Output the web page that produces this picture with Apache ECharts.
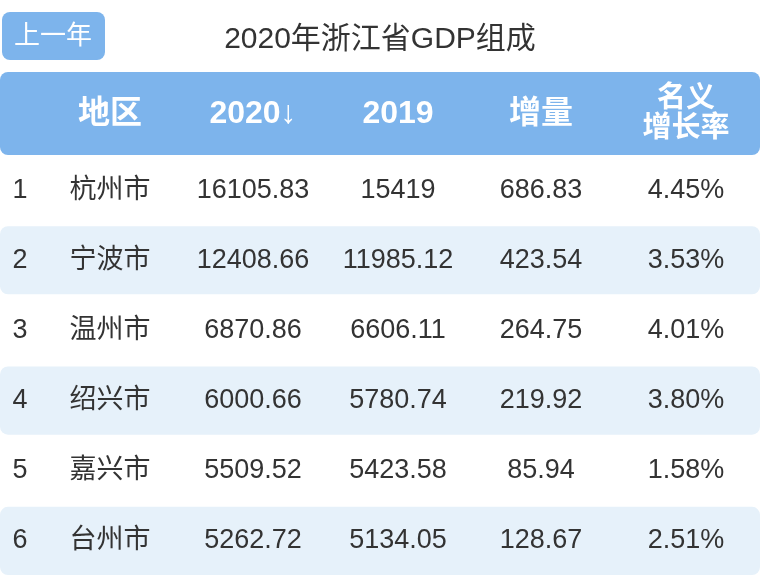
<!DOCTYPE html>
<html><head><meta charset="utf-8">
<script src="https://cdn.jsdelivr.net/npm/echarts@6/dist/echarts.min.js"></script>
<style>html,body{margin:0;padding:0;background:#fff}#c{width:767px;height:576px}</style>
</head><body><div id="c"></div>
<script>
const title = '2020年浙江省GDP组成';
const buttonLabel = '上一年';
const headers = ['', '地区', '2020↓', '2019', '增量', '名义\n增长率'];
const ranks = ['1', '2', '3', '4', '5', '6'];
const cities = ['杭州市', '宁波市', '温州市', '绍兴市', '嘉兴市', '台州市'];
const gdp2020 = ['16105.83', '12408.66', '6870.86', '6000.66', '5509.52', '5262.72'];
const gdp2019 = ['15419', '11985.12', '6606.11', '5780.74', '5423.58', '5134.05'];
const increase = ['686.83', '423.54', '264.75', '219.92', '85.94', '128.67'];
const growth = ['4.45%', '3.53%', '4.01%', '3.80%', '1.58%', '2.51%'];

const colX = [20, 110, 253, 398, 541, 686];
const FONT = '"Liberation Sans", "Noto Sans CJK SC", sans-serif';
const cols = [ranks, cities, gdp2020, gdp2019, increase, growth];
const cells = [];
cols.forEach((arr, c) => arr.forEach((v, r) => cells.push([c, r, v])));
const bgRows = ranks.map((_, r) => [r]).filter(d => d[0] % 2 === 1);

const chart = echarts.init(document.getElementById('c'));
chart.setOption({
  animation: false,
  grid: {left: 0, right: 7, top: 155, bottom: -73},
  xAxis: {type: 'value', min: 0, max: 760, show: false},
  yAxis: {type: 'category', data: ranks, inverse: true, show: false},
  graphic: [
    {type: 'rect', left: 2, top: 12, shape: {width: 103, height: 48, r: 8}, style: {fill: '#7db4ec'}},
    {type: 'text', x: 53, y: 37, style: {text: buttonLabel, fill: '#fff', font: '26px ' + FONT, align: 'center', verticalAlign: 'middle'}},
    {type: 'text', x: 380, y: 40, style: {text: title, fill: '#333', font: '30px ' + FONT, align: 'center', verticalAlign: 'middle'}},
    {type: 'rect', x: 0, y: 72, shape: {width: 760, height: 83, r: 8}, style: {fill: '#7db4ec'}},
    ...headers.map((h, i) => ({type: 'text', x: colX[i], y: 114, style: {
      text: h, fill: '#fff', align: 'center', verticalAlign: 'middle',
      font: (i === 5 ? 'bold 29px ' : 'bold 32px ') + FONT, lineHeight: 30}}))
  ],
  series: [
    {type: 'custom', data: bgRows, encode: {y: 0},
     renderItem: (p, api) => {
       const y = api.coord([0, api.value(0)])[1];
       const h = api.size([0, 1])[1];
       return {type: 'rect', shape: {x: 0, y: y - h / 2 + 1, width: 760, height: h - 2, r: 8}, style: {fill: '#e6f1fa'}};
     }},
    {type: 'custom', data: cells, encode: {y: 1},
     renderItem: (p, api) => {
       const c = api.value(0);
       const y = api.coord([0, api.value(1)])[1];
       return {type: 'text', x: colX[c], y: y, style: {text: cells[p.dataIndex][2], fill: '#333',
         font: '27px ' + FONT, align: 'center', verticalAlign: 'middle'}};
     }}
  ]
});
</script></body></html>
